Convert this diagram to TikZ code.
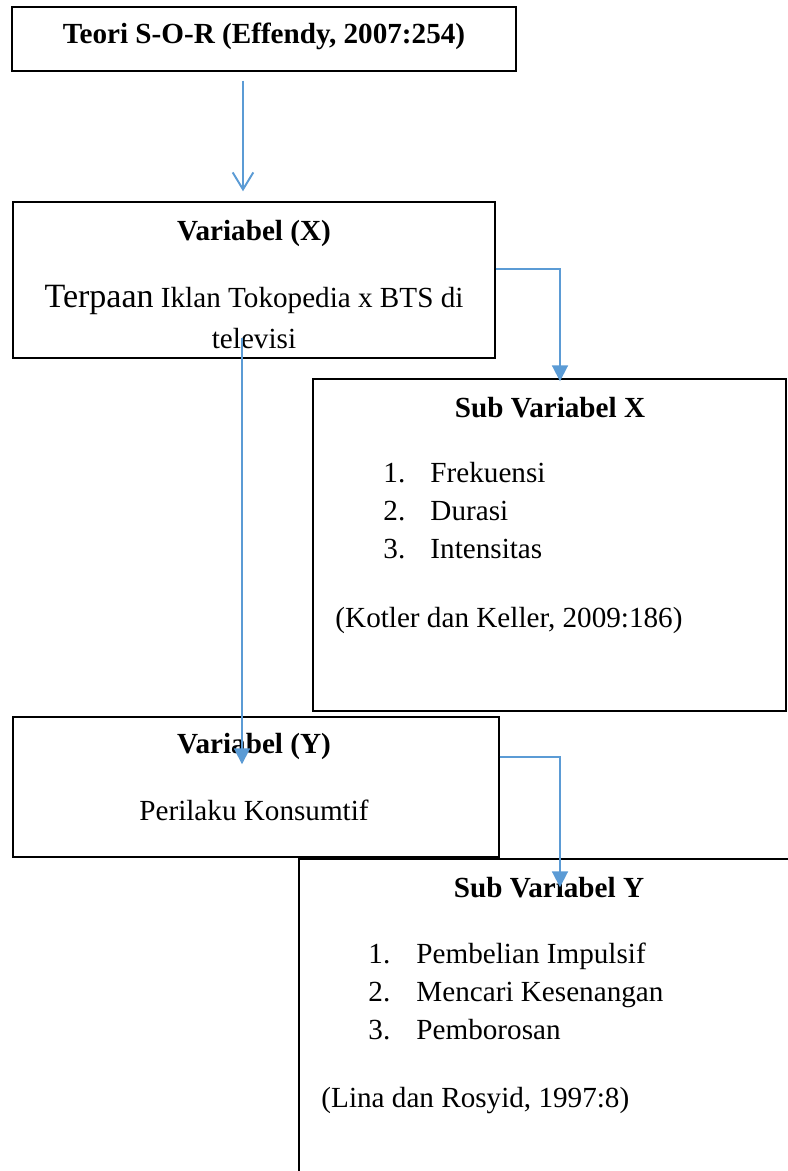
\documentclass[tikz,border=0pt]{standalone}
\usepackage{fontspec}
\setmainfont{Liberation Serif}
\usetikzlibrary{calc,fit,arrows.meta}
\definecolor{panahbiru}{RGB}{91,155,213}

\begin{document}
\begin{tikzpicture}[x=0.4115pt,y=-0.4115pt,
  kotak/.style={draw=black, line width=0.6pt, inner sep=0pt},
  isi/.style={font=\fontsize{12}{14.4}\selectfont, inner sep=0pt, anchor=mid, yshift=-2pt},
  judul/.style={isi, font=\fontsize{12}{14.4}\selectfont\bfseries},
  butir/.style={isi, anchor=mid west},
  panah/.style={draw=panahbiru, line width=0.8pt, -{Triangle[length=6.5pt,width=6.5pt]}},
  panahbuka/.style={draw=panahbiru, line width=0.8pt, -{Straight Barb[length=7pt,width=8.5pt]}}]
\clip (0,0) rectangle (788,1171);

% kotak-kotak
\node[kotak, fit={(12,7) (516,71)}] (teori) {};
\node[kotak, fit={(13,202) (495,358)}] (varx) {};
\node[kotak, fit={(313,379) (786,711)}] (subx) {};
\node[kotak, fit={(13,717) (499,857)}] (vary) {};
\node[kotak, fit={(299,859) (820,1200)}] (suby) {};

% teks
\node[judul] (tteori) at (264,33) {Teori S-O-R (Effendy, 2007:254)};

\node[judul] (tvarx) at (254,230) {Variabel (X)};
\node[isi] (tterpaan) at (254,297) {{\fontsize{14}{16}\selectfont Terpaan} Iklan Tokopedia x BTS di};
\node[isi] (ttelevisi) at (254,338) {televisi};

\node[judul] (tsubx) at (550,407) {Sub Variabel X};
\foreach \no/\teks [count=\i] in {1/Frekuensi, 2/Durasi, 3/Intensitas}{
  \node[butir] (nx\i) at (383,434+38*\i) {\no.};
  \node[butir] (bx\i) at (430,434+38*\i) {\teks};
}
\node[butir] (tkotler) at (335,617) {(Kotler dan Keller, 2009:186)};

\node[judul] (tvary) at (254,743) {Variabel (Y)};
\node[isi] (tperilaku) at (254,810) {Perilaku Konsumtif};

\node[judul] (tsuby) at (549,887) {Sub Variabel Y};
\foreach \no/\teks [count=\i] in {1/Pembelian Impulsif, 2/Mencari Kesenangan, 3/Pemborosan}{
  \node[butir] (ny\i) at (368,915+38*\i) {\no.};
  \node[butir] (by\i) at (416,915+38*\i) {\teks};
}
\node[butir] (tlina) at (321,1097) {(Lina dan Rosyid, 1997:8)};

% panah
\draw[panahbuka] ($(teori.south)+(-21,9)$) -- ($(varx.north)+(-11,-10)$);
\draw[panah] ($(varx.east)+(0,-11)$) -| ($(subx.north)+(10.5,3)$);
\draw[panah] ($(varx.south)+(-12,-21)$) -- ($(vary.north)+(-14,48)$);
\draw[panah] ($(vary.east)+(0,-30)$) -| ($(suby.north)+(0.5,29)$);
\end{tikzpicture}
\end{document}
